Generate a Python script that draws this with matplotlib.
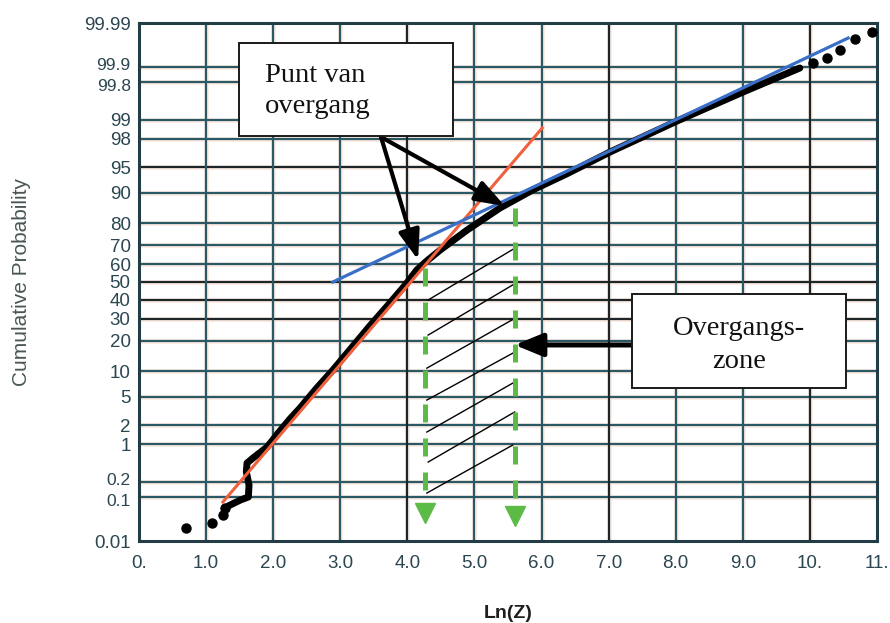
import math
import numpy as np
import matplotlib
matplotlib.use("Agg")
import matplotlib.pyplot as plt
from matplotlib.patches import Rectangle
from matplotlib.transforms import ScaledTranslation

# ---------------- data ----------------
curve_x = [1.33, 1.51, 1.63, 1.64, 1.60, 1.61, 1.70, 1.91, 2.10, 2.25, 2.40, 2.65,
           2.89, 3.19, 3.44, 3.70, 3.97, 4.14, 4.29, 4.49, 4.89, 5.38, 5.87, 6.38,
           7.02, 8.02, 9.00, 9.85]
curve_p = [0.065, 0.087, 0.101, 0.178, 0.319, 0.467, 0.575, 0.89, 1.62, 2.46, 3.52, 6.4,
           10.3, 17.9, 26.4, 36.5, 48.3, 56.8, 61.9, 67.7, 77.2, 85.6, 90.7, 94.0,
           96.9, 98.96, 99.68, 99.894]
dots_x = [0.70, 1.09, 1.25, 1.28, 10.05, 10.26, 10.45, 10.67, 10.93]
dots_p = [0.0206, 0.027, 0.040, 0.059, 99.917, 99.935, 99.957, 99.976, 99.983]

red_x = [1.25, 6.01]
red_p = [0.079, 98.65]
blue_x = [2.89, 10.57]
blue_p = [50.0, 99.977]

green_x = [4.27, 5.60]
green_top_p = [58.0, 85.6]
green_head_p = [0.0466, 0.038]

hatch_x0 = [4.31, 4.31, 4.29, 4.29, 4.29, 4.31, 4.29]
hatch_p0 = [39.8, 22.3, 10.8, 4.5, 1.56, 0.487, 0.122]
hatch_x1 = [5.63, 5.57, 5.56, 5.60, 5.60, 5.60, 5.57]
hatch_p1 = [69.2, 48.3, 29.3, 15.7, 7.55, 3.10, 0.96]

x_ticks = list(range(12))
x_labels = ["0.", "1.0", "2.0", "3.0", "4.0", "5.0", "6.0", "7.0", "8.0", "9.0", "10.", "11."]
y_ticks = [0.01, 0.1, 0.2, 1, 2, 5, 10, 20, 30, 40, 50, 60, 70, 80, 90, 95, 98, 99,
           99.8, 99.9, 99.99]
y_labels = ["0.01", "0.1", "0.2", "1", "2", "5", "10", "20", "30", "40", "50", "60",
            "70", "80", "90", "95", "98", "99", "99.8", "99.9", "99.99"]

label_box1 = ["Punt van", "overgang"]
label_box2 = ["Overgangs-", "zone"]
tip1 = (4.16, 62.4)
tip2 = (5.455, 86.2)
tip3 = (5.60, 18.3)

# ---------------- probability (probit) scale ----------------
_A = [-3.969683028665376e+01, 2.209460984245205e+02, -2.759285104469687e+02,
      1.383577518672690e+02, -3.066479806614716e+01, 2.506628277459239e+00]
_B = [-5.447609879822406e+01, 1.615858368580409e+02, -1.556989798598866e+02,
      6.680131188771972e+01, -1.328068155288572e+01]
_C = [-7.784894002430293e-03, -3.223964580411365e-01, -2.400758277161838e+00,
      -2.549671010336269e+00, 4.374664141464968e+00, 2.938163982698783e+00]
_D = [7.784695709041462e-03, 3.224671290700398e-01, 2.445134137142996e+00,
      3.754408661907416e+00]


def _ppf(p):
    p = np.clip(np.asarray(p, dtype=float), 1e-12, 1 - 1e-12)
    plow = 0.02425
    with np.errstate(all="ignore"):
        q = p - 0.5
        r = q * q
        central = (((((_A[0] * r + _A[1]) * r + _A[2]) * r + _A[3]) * r + _A[4]) * r + _A[5]) * q / \
                  (((((_B[0] * r + _B[1]) * r + _B[2]) * r + _B[3]) * r + _B[4]) * r + 1)
        ql = np.sqrt(-2 * np.log(p))
        low = (((((_C[0] * ql + _C[1]) * ql + _C[2]) * ql + _C[3]) * ql + _C[4]) * ql + _C[5]) / \
              ((((_D[0] * ql + _D[1]) * ql + _D[2]) * ql + _D[3]) * ql + 1)
        qu = np.sqrt(-2 * np.log(1 - p))
        up = -(((((_C[0] * qu + _C[1]) * qu + _C[2]) * qu + _C[3]) * qu + _C[4]) * qu + _C[5]) / \
             ((((_D[0] * qu + _D[1]) * qu + _D[2]) * qu + _D[3]) * qu + 1)
    return np.where(p < plow, low, np.where(p > 1 - plow, up, central))


_erf = np.vectorize(math.erf, otypes=[float])


def fwd(y):
    return _ppf(np.asarray(y, dtype=float) / 100.0)


def inv(z):
    return 100.0 * 0.5 * (1.0 + _erf(np.asarray(z, dtype=float) / math.sqrt(2.0)))


# ---------------- figure ----------------
W, H = 890, 623
fig = plt.figure(figsize=(W / 100, H / 100), dpi=100)
fig.patch.set_facecolor("white")
ax = fig.add_axes([139 / W, 1 - 541 / H, 738 / W, 518 / H])
ax.set_yscale("function", functions=(fwd, inv))
ax.set_xlim(0, 11)
ax.set_ylim(0.01, 99.99)

grid_teal = "#2a5966"
grid_dark = "#1c2629"
halo = "#fbe9e2"
dark_y = {95, 50, 40, 30}
dark_x = {4, 7, 10}
for v in y_ticks[1:-1]:
    ax.axhline(v, color=halo, lw=3.4, zorder=0.5)
    ax.axhline(v, color=grid_dark if v in dark_y else grid_teal, lw=1.6, zorder=0.6)
for v in x_ticks[1:-1]:
    ax.axvline(v, color=halo, lw=3.4, zorder=0.5)
    ax.axvline(v, color=grid_dark if v in dark_x else grid_teal, lw=1.6, zorder=0.6)

for s in ax.spines.values():
    s.set_color("#223d45")
    s.set_linewidth(2.2)

ax.set_xticks(x_ticks)
ax.set_xticklabels(x_labels)
ax.set_yticks(y_ticks)
ax.set_yticklabels(y_labels)
ax.yaxis.set_minor_locator(matplotlib.ticker.NullLocator())
ax.xaxis.set_minor_locator(matplotlib.ticker.NullLocator())
tick_col = "#2b4650"
ax.tick_params(axis="both", length=0, labelsize=13.5, labelcolor=tick_col)
ax.tick_params(axis="x", pad=10)
ax.tick_params(axis="y", pad=6)
for t in ax.get_xticklabels() + ax.get_yticklabels():
    t.set_fontfamily("Liberation Sans")

# the crowded pairs (99.9 / 99.8 and 0.2 / 0.1) are nudged apart a little
nudge = {"99.9": 3.0, "99.8": -3.0, "0.2": 3.0, "0.1": -3.0}
for t in ax.get_yticklabels():
    if t.get_text() in nudge:
        t.set_fontsize(12.5)
        t.set_transform(t.get_transform() +
                        ScaledTranslation(0, nudge[t.get_text()] / 100, fig.dpi_scale_trans))

ax.set_xlabel("Ln(Z)", fontsize=14, fontweight="bold", color="#1e1e1e",
              fontfamily="Liberation Sans", va="center")
ax.xaxis.set_label_coords(0.5, -(614 - 541) / 518)
ax.set_ylabel("Cumulative Probability", fontsize=15, color="#4a5656",
              fontfamily="Liberation Sans", va="center")
ax.yaxis.set_label_coords((22 - 139) / 738, 0.5)

# ---------------- data curve ----------------
ax.plot(curve_x, curve_p, color="black", lw=5, solid_capstyle="round",
        solid_joinstyle="round", zorder=3)
ax.plot(dots_x, dots_p, "o", color="black", ms=6.5, zorder=3)

# fitted lines
ax.plot(red_x, red_p, color="#f0603c", lw=2.2, zorder=4)
ax.plot(blue_x, blue_p, color="#3a6fc8", lw=2.3, zorder=4)

# hatch lines of the transition zone
for x0, p0, x1, p1 in zip(hatch_x0, hatch_p0, hatch_x1, hatch_p1):
    ax.plot([x0, x1], [p0, p1], color="black", lw=1.0, zorder=4)

# green dashed arrows
green = "#5cbb46"
for gx, gt, gh in zip(green_x, green_top_p, green_head_p):
    ax.plot([gx, gx], [gt, gh], color=green, lw=3.6, dashes=(3.6, 3.2), zorder=5)
    ax.plot([gx], [gh], marker="v", color=green, ms=15, mec=green, zorder=5)

# ---------------- annotation boxes ----------------
box1 = ((239 - 139) / 738, 1 - (136 - 23) / 518, (453 - 239) / 738, (136 - 43) / 518)
box2 = ((632 - 139) / 738, 1 - (388 - 23) / 518, (846 - 632) / 738, (388 - 294) / 518)
for bx in (box1, box2):
    ax.add_patch(Rectangle(bx[:2], bx[2], bx[3], transform=ax.transAxes,
                           facecolor="white", edgecolor="#1a1a1a", lw=1.4, zorder=7))

serif = "Liberation Serif"
ax.text((265 - 139) / 738, 1 - (82 - 23) / 518, label_box1[0], transform=ax.transAxes,
        fontsize=20.5, fontfamily=serif, ha="left", va="baseline", color="#111", zorder=8)
ax.text((265 - 139) / 738, 1 - (113 - 23) / 518, label_box1[1], transform=ax.transAxes,
        fontsize=20.5, fontfamily=serif, ha="left", va="baseline", color="#111", zorder=8)
ax.text((739 - 139) / 738, 1 - (335 - 23) / 518, label_box2[0], transform=ax.transAxes,
        fontsize=20.5, fontfamily=serif, ha="center", va="baseline", color="#111", zorder=8)
ax.text((739 - 139) / 738, 1 - (368 - 23) / 518, label_box2[1], transform=ax.transAxes,
        fontsize=20.5, fontfamily=serif, ha="center", va="baseline", color="#111", zorder=8)

start1 = ((381 - 139) / 738, 1 - (137 - 23) / 518)
for tip in (tip1, tip2):
    ax.annotate("", xy=tip, xycoords="data", xytext=start1, textcoords="axes fraction",
                arrowprops=dict(arrowstyle="-|>,head_length=0.9,head_width=0.32",
                                lw=3.0, color="black", mutation_scale=20,
                                shrinkA=0, shrinkB=0), zorder=6)
start3 = ((632 - 139) / 738, 1 - (345 - 23) / 518)
ax.annotate("", xy=tip3, xycoords="data", xytext=start3, textcoords="axes fraction",
            arrowprops=dict(arrowstyle="-|>,head_length=0.85,head_width=0.35",
                            lw=3.6, color="black", mutation_scale=20,
                            shrinkA=0, shrinkB=0), zorder=6)

fig.savefig("out.png", dpi=100, facecolor="white")
